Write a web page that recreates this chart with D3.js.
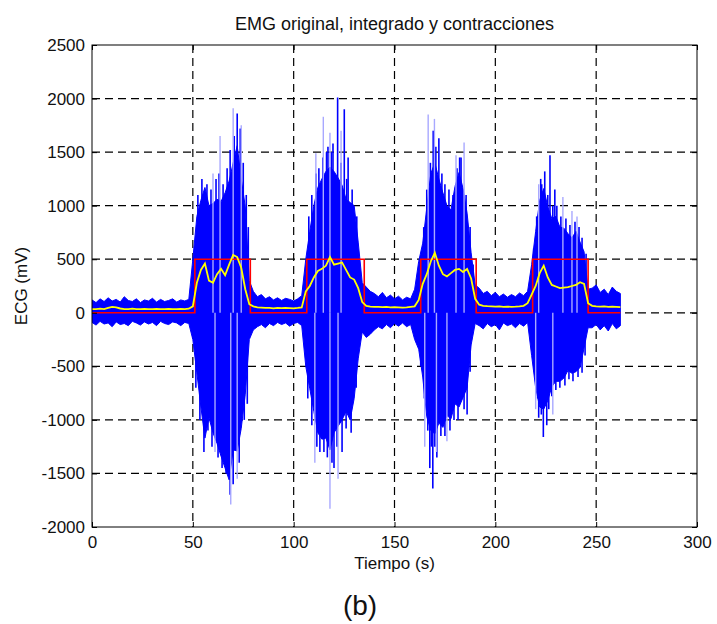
<!DOCTYPE html>
<html>
<head>
<meta charset="utf-8">
<script src="https://cdnjs.cloudflare.com/ajax/libs/d3/7.8.5/d3.min.js"></script>
<style>
  body { margin: 0; background: #fff; }
  text { font-family: "Liberation Sans", Arial, sans-serif; fill: #111; }
</style>
</head>
<body>
<script>
// tiempo de muestreo cada 2 s, de 0 a 262 s
var tiempo = d3.range(0, 263, 2);

// envolvente superior e inferior del EMG original (mV)
var emgMax = [
  120, 95, 130, 105, 140, 110, 125, 100, 150, 115, 105, 130, 95, 120, 110, 135, 100, 125, 105, 115, 130, 100, 120, 110, 125,
  500, 900, 1050, 1170, 1000, 1020, 1060, 1040, 1120, 1230, 1400, 1560, 1250, 990, 300,
  200, 150, 170, 130, 150, 120, 140, 115, 135, 125, 110, 130, 160,
  500, 760, 1000, 1170, 1250, 1320, 1360, 1320, 1260, 1190, 1060, 1030, 1000, 660, 280,
  240, 200, 180, 150, 190, 140, 165, 130, 155, 120, 145, 130, 220,
  480, 650, 980, 1300, 1400, 1250, 1120, 1000, 960, 1180, 1310, 1160, 930, 560, 260,
  230, 180, 200, 160, 190, 150, 175, 145, 170, 150, 185, 160, 200,
  450, 760, 1050, 1160, 990, 880, 900, 800, 790, 740, 700, 760, 660, 570, 220,
  230, 260, 190, 220, 170, 240, 200, 180
];
var emgMin = [
  -90, -115, -80, -105, -95, -130, -85, -110, -100, -120, -80, -95, -115, -85, -105, -90, -120, -80, -100, -110, -85, -95, -120, -90, -100,
  -250, -560, -880, -1170, -980, -1120, -1220, -1340, -1450, -1560, -1280, -1290, -1080, -760, -250,
  -160, -130, -110, -140, -100, -120, -90, -110, -95, -125, -100, -90, -120,
  -500, -710, -920, -1120, -1180, -1170, -1280, -1120, -1060, -1000, -920, -1000, -800, -430, -180,
  -230, -200, -160, -130, -150, -110, -140, -100, -125, -95, -130, -110, -250,
  -340, -600, -970, -1100, -1130, -1030, -1070, -960, -990, -850, -880, -790, -700, -300, -100,
  -120, -150, -100, -130, -110, -160, -95, -120, -105, -140, -100, -125, -90,
  -400, -700, -880, -900, -820, -690, -640, -640, -610, -540, -565, -550, -510, -330, -140,
  -140, -110, -160, -120, -170, -100, -150, -120
];

// EMG integrado (amarillo)
var integrado = [
  35, 35, 38, 35, 45, 55, 50, 40, 35, 35, 38, 35, 35, 37, 35, 35, 36, 35, 35, 37, 35, 35, 36, 35, 38,
  60, 280, 400, 460, 300, 280, 360, 410, 350, 450, 540, 520, 420, 220, 80,
  60, 50, 48, 45, 45, 42, 45, 43, 45, 44, 42, 45, 50,
  200, 250, 330, 390, 410, 440, 520, 450, 460, 470, 400, 330, 310, 230, 100,
  65, 58, 55, 55, 52, 55, 50, 52, 50, 48, 50, 55, 60,
  120, 270, 360, 480, 560, 440, 360, 340, 370, 400, 410, 380, 410, 320, 130,
  75, 65, 62, 60, 58, 60, 56, 58, 55, 57, 60, 65, 90,
  170, 250, 370, 440, 330, 260, 245, 230, 235, 240, 250, 260, 285, 270, 90,
  65, 60, 58, 60, 55, 58, 55, 52
];

// contracciones detectadas (rojo)
var inicioContraccion = [51, 106.5, 163, 218.5];
var finContraccion = [78.5, 135, 190.5, 246];
var nivelContraccion = 500;
var tiempoFinal = 262;

// picos aislados del EMG (azul intenso)
var picosT = [
  68.5, 70.5, 72, 73.5, 75, 66.5, 68.5, 70,
  52.5, 54.5, 57, 59, 61.5, 63, 65, 67, 76.5, 77.5,
  51.5, 53.5, 55.5, 57.5, 59.5, 62.5, 64.5, 73, 75.5, 77,
  117, 119.5, 121.8, 125.1, 127, 113, 120, 124,
  107.5, 109, 111, 112.5, 114.5, 116.3, 118.7, 123.5, 126.3, 129, 131.3,
  107, 109, 111.5, 115, 116.7, 119, 121.5, 126, 128.5, 131,
  169.2, 170.5, 172, 183, 167.5, 169, 171,
  164.5, 166, 167.8, 173.5, 175, 177, 179, 181, 182.3, 185.5, 187.5, 189,
  163, 164.8, 166.5, 168.3, 170, 173, 175, 177.5, 179.5, 181.5, 184.5, 186, 187.5,
  222.5, 224.5, 227.1, 229.5, 221.5, 223.8, 225.5,
  219, 220.5, 223, 226, 228.5, 230.5, 232.5, 235, 237, 239.5, 241.5, 243, 245,
  219.3, 221, 222.8, 226.5, 228, 230, 232, 234.5, 236.5, 238.5, 241, 243, 244.5
];
var picosV = [
  1520, 1650, 1860, 1720, 1400, -1500, -1700, -1600,
  1100, 1250, 1200, 1150, 1250, 1300, 1200, 1350, 1100, 800,
  -700, -1000, -1300, -1100, -1250, -1350, -1450, -1400, -1000, -850,
  1550, 1580, 2010, 1900, 1450, -1300, -1450, -1300,
  900, 1100, 1300, 1350, 1450, 1500, 1500, 1400, 1250, 1150, 900,
  -800, -1050, -1250, -1300, -1350, -1400, -1250, -1080, -1120, -700,
  1700, 1550, 1630, 1450, -1450, -1640, -1350,
  800, 1150, 1400, 1300, 1200, 1150, 1100, 1350, 1450, 1100, 800, 450,
  -500, -800, -1100, -1250, -1250, -1150, -1150, -1100, -1000, -1000, -900, -950, -550,
  1250, 1320, 1470, 1150, -980, -1160, -1050,
  600, 900, 1200, 1100, 1000, 1000, 900, 880, 820, 850, 800, 700, 550,
  -550, -800, -950, -900, -780, -720, -700, -680, -620, -640, -600, -560, -400
];
// picos tenues (azul claro)
var picosClarosT = [60, 63.5, 70, 74, 61, 68.8, 72, 111, 114.7, 118, 123.5, 110.5, 118, 122,
  166.7, 169.8, 180.5, 184.5, 165, 170.8, 176, 221.5, 233.5, 238, 240.5, 220, 228.5];
var picosClarosV = [1300, 1650, 1910, 1750, -1300, -1790, -1550, 1490, 1830, 1680, 1700, -1400, -1830, -1550,
  1850, 1810, 1470, 1590, -1250, -1300, -1200, 1200, 1080, 950, 900, -900, -950];

var ticksX = [0, 50, 100, 150, 200, 250, 300];
var ticksY = [-2000, -1500, -1000, -500, 0, 500, 1000, 1500, 2000, 2500];

var ancho = 605;
var altura = 482;
var margen = { superior: 45, izquierdo: 92 };

var svg = d3.select("body")
  .append("svg")
  .attr("width", 717)
  .attr("height", 624);

var g = svg.append("g")
  .attr("transform", "translate(" + margen.izquierdo + "," + margen.superior + ")");

var escalaX = d3.scaleLinear().domain([0, 300]).range([0, ancho]);
var escalaY = d3.scaleLinear().domain([-2000, 2500]).range([altura, 0]);

g.append("clipPath").attr("id", "recorte")
  .append("rect").attr("width", ancho).attr("height", altura);

// rejilla
g.append("g").selectAll("line")
  .data(ticksX.slice(1, -1))
  .join("line")
  .attr("x1", function (d) { return escalaX(d); })
  .attr("x2", function (d) { return escalaX(d); })
  .attr("y1", 0).attr("y2", altura)
  .attr("stroke", "#000").attr("stroke-width", 1.2)
  .attr("stroke-dasharray", "8,5");

g.append("g").selectAll("line")
  .data(ticksY.slice(1, -1))
  .join("line")
  .attr("y1", function (d) { return escalaY(d); })
  .attr("y2", function (d) { return escalaY(d); })
  .attr("x1", 0).attr("x2", ancho)
  .attr("stroke", "#000").attr("stroke-width", 1.2)
  .attr("stroke-dasharray", "8,5");

var datos = tiempo.map(function (t, i) {
  return { t: t, max: emgMax[i], min: emgMin[i], int: integrado[i] };
});

var zona = g.append("g").attr("clip-path", "url(#recorte)");

// EMG original
var area = d3.area()
  .x(function (d) { return escalaX(d.t); })
  .y0(function (d) { return escalaY(d.min); })
  .y1(function (d) { return escalaY(d.max); });

zona.append("path")
  .datum(datos)
  .attr("d", area)
  .attr("fill", "#0000ff")
  .attr("stroke", "#0000ff")
  .attr("stroke-width", 1);

zona.append("g").selectAll("line")
  .data(picosT)
  .join("line")
  .attr("x1", function (d) { return escalaX(d); })
  .attr("x2", function (d) { return escalaX(d); })
  .attr("y1", escalaY(0))
  .attr("y2", function (d, i) { return escalaY(picosV[i]); })
  .attr("stroke", "#0000ff").attr("stroke-width", 1.6);

// picos claros (por encima, dejan estelas claras)
zona.append("g").selectAll("line")
  .data(picosClarosT)
  .join("line")
  .attr("x1", function (d) { return escalaX(d); })
  .attr("x2", function (d) { return escalaX(d); })
  .attr("y1", escalaY(0))
  .attr("y2", function (d, i) { return escalaY(picosClarosV[i]); })
  .attr("stroke", "#a8a8ff").attr("stroke-width", 1.4);

// contracciones
var puntosRojos = [[0, 0]];
inicioContraccion.forEach(function (ini, i) {
  puntosRojos.push([ini, 0], [ini, nivelContraccion], [finContraccion[i], nivelContraccion], [finContraccion[i], 0]);
});
puntosRojos.push([tiempoFinal, 0]);

zona.append("path")
  .datum(puntosRojos)
  .attr("d", d3.line()
    .x(function (d) { return escalaX(d[0]); })
    .y(function (d) { return escalaY(d[1]); }))
  .attr("fill", "none")
  .attr("stroke", "#ff0000")
  .attr("stroke-width", 1.6);

// integrado
zona.append("path")
  .datum(datos)
  .attr("d", d3.line()
    .x(function (d) { return escalaX(d.t); })
    .y(function (d) { return escalaY(d.int); }))
  .attr("fill", "none")
  .attr("stroke", "#ffff00")
  .attr("stroke-width", 1.8);

// caja y marcas
g.append("rect")
  .attr("width", ancho).attr("height", altura)
  .attr("fill", "none").attr("stroke", "#000").attr("stroke-width", 1);

var formato = function (d) { return String(d); };
var ejeX = d3.axisBottom(escalaX).tickValues(ticksX).tickSize(-5).tickPadding(9).tickFormat(formato);
var ejeY = d3.axisLeft(escalaY).tickValues(ticksY).tickSize(-5).tickPadding(7).tickFormat(formato);

g.append("g").attr("transform", "translate(0," + altura + ")").call(ejeX);
g.append("g").call(ejeY);
g.append("g").call(d3.axisTop(escalaX).tickValues(ticksX).tickSize(-5).tickFormat(""));
g.append("g").attr("transform", "translate(" + ancho + ",0)")
  .call(d3.axisRight(escalaY).tickValues(ticksY).tickSize(-5).tickFormat(""));

g.selectAll(".domain").remove();
g.selectAll(".tick line").attr("stroke", "#000");
g.selectAll(".tick text")
  .style("font-family", "'Liberation Sans', Arial, sans-serif")
  .style("font-size", "17px")
  .attr("fill", "#111");

// textos
svg.append("text")
  .attr("x", margen.izquierdo + ancho / 2)
  .attr("y", 30)
  .attr("text-anchor", "middle")
  .style("font-size", "18px")
  .text("EMG original, integrado y contracciones");

svg.append("text")
  .attr("x", margen.izquierdo + ancho / 2)
  .attr("y", 569)
  .attr("text-anchor", "middle")
  .style("font-size", "17px")
  .text("Tiempo (s)");

svg.append("text")
  .attr("transform", "translate(27," + (margen.superior + escalaY(250)) + ") rotate(-90)")
  .attr("text-anchor", "middle")
  .style("font-size", "17px")
  .text("ECG (mV)");

svg.append("text")
  .attr("x", 360)
  .attr("y", 615)
  .attr("text-anchor", "middle")
  .style("font-size", "28px")
  .text("(b)");
</script>
</body>
</html>
